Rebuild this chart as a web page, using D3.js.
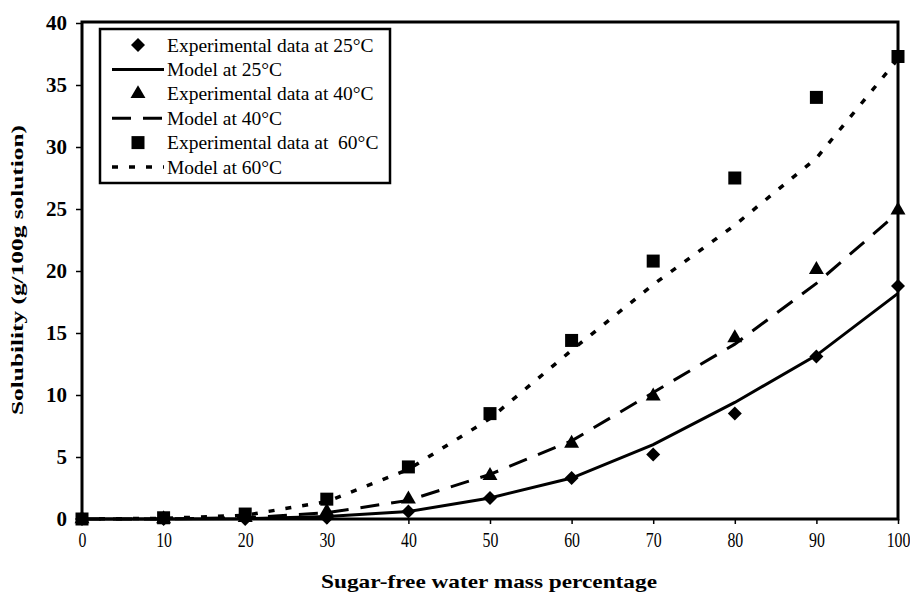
<!DOCTYPE html>
<html>
<head>
<meta charset="utf-8">
<script src="https://cdn.jsdelivr.net/npm/d3@7"></script>
<style>
  html, body { margin: 0; padding: 0; background: #fff; }
  svg { display: block; }
  text { font-family: "Liberation Serif", "Times New Roman", serif; fill: #000; }
</style>
</head>
<body>
<svg id="chart" width="910" height="598"></svg>
<script>
// ---- data ----
const xValues = [0, 10, 20, 30, 40, 50, 60, 70, 80, 90, 100];
const exp25   = [0, 0, 0, 0.1, 0.6, 1.7, 3.3, 5.2, 8.5, 13.1, 18.8];
const model25 = [0, 0, 0.02, 0.2, 0.6, 1.7, 3.3, 6.0, 9.4, 13.2, 18.2];
const exp40   = [0, 0, 0.1, 0.6, 1.6, 3.5, 6.1, 9.9, 14.6, 20.1, 24.9];
const model40 = [0, 0, 0.1, 0.5, 1.5, 3.6, 6.3, 10.2, 14.1, 19.0, 24.7];
const exp60   = [0, 0.1, 0.4, 1.6, 4.2, 8.5, 14.4, 20.8, 27.5, 34.0, 37.3];
const model60 = [0, 0.05, 0.3, 1.4, 4.0, 8.1, 13.6, 18.9, 23.7, 29.1, 37.1];
const xTicks = [0, 10, 20, 30, 40, 50, 60, 70, 80, 90, 100];
const yTicks = [0, 5, 10, 15, 20, 25, 30, 35, 40];
const legendLabels = [
  "Experimental data at 25°C",
  "Model at 25°C",
  "Experimental data at 40°C",
  "Model at 40°C",
  "Experimental data at  60°C",
  "Model at 60°C"
];
const xTitle = "Sugar-free water mass percentage";
const yTitle = "Solubility (g/100g solution)";

// ---- layout ----
const svg = d3.select("#chart");
const L = 82, R = 898, T = 23, B = 519;
const x = d3.scaleLinear().domain([0, 100]).range([L, R]);
const y = d3.scaleLinear().domain([0, 40]).range([B, T]);

const diamond = d3.symbol().type(d3.symbolSquare).size(98);
const square = d3.symbol().type(d3.symbolSquare).size(169);
const triangle = d3.symbol().type(d3.symbolTriangle).size(97);

const series = [
  { exp: exp25, model: model25, sym: diamond, rot: 45, dash: null, width: 3 },
  { exp: exp40, model: model40, sym: triangle, rot: 0, dash: "19,12", width: 3 },
  { exp: exp60, model: model60, sym: square, rot: 0, dash: "6,11", width: 3.5 }
];

// axes
const yAxis = d3.axisLeft(y).tickValues(yTicks).tickSize(6).tickPadding(9);
const gy = svg.append("g").attr("transform", `translate(${L},0)`).call(yAxis);
gy.select(".domain").remove();
gy.selectAll(".tick line").attr("stroke", "#000").attr("stroke-width", 1.5);
gy.selectAll(".tick text")
  .style("font-family", "'Liberation Serif', serif")
  .style("font-size", "21px").style("font-weight", "bold");

const xAxis = d3.axisBottom(x).tickValues(xTicks).tickSize(5).tickPadding(7);
const gx = svg.append("g").attr("transform", `translate(0,${B})`).call(xAxis);
gx.select(".domain").remove();
gx.selectAll(".tick line").attr("stroke", "#000").attr("stroke-width", 1.5);
gx.selectAll(".tick text")
  .style("font-family", "'Liberation Serif', serif")
  .style("font-size", "22px")
  .attr("dy", "0.71em")
  .attr("transform", "scale(0.72,1)");

// model lines
const line = d3.line().x((d, i) => x(xValues[i])).y(d => y(d));
series.forEach(s => {
  svg.append("path")
    .datum(s.model)
    .attr("d", line)
    .attr("fill", "none")
    .attr("stroke", "#000")
    .attr("stroke-width", s.width)
    .attr("stroke-dasharray", s.dash);
});

// frame
svg.append("rect")
  .attr("x", L).attr("y", T - 1)
  .attr("width", R - L).attr("height", B - T + 1)
  .attr("fill", "none").attr("stroke", "#000").attr("stroke-width", 3);

// markers
series.forEach(s => {
  svg.append("g").selectAll("path")
    .data(s.exp)
    .join("path")
    .attr("d", s.sym)
    .attr("transform", (d, i) => `translate(${x(xValues[i])},${y(d)}) rotate(${s.rot})`)
    .attr("fill", "#000");
});

// axis titles
svg.append("text")
  .attr("x", (L + R) / 2 - 1).attr("y", 588)
  .attr("text-anchor", "middle")
  .attr("textLength", 336).attr("lengthAdjust", "spacingAndGlyphs")
  .style("font-size", "19px").style("font-weight", "bold")
  .text(xTitle);

svg.append("text")
  .attr("transform", "translate(23,270) rotate(-90)")
  .attr("text-anchor", "middle")
  .attr("textLength", 290).attr("lengthAdjust", "spacingAndGlyphs")
  .style("font-size", "17px").style("font-weight", "bold")
  .text(yTitle);

// legend
const lg = svg.append("g");
lg.append("rect")
  .attr("x", 100).attr("y", 29).attr("width", 290).attr("height", 154)
  .attr("fill", "#fff").attr("stroke", "#000").attr("stroke-width", 2.5);
const rowY = d3.scaleLinear().domain([0, 5]).range([45, 167]);
legendLabels.forEach((lab, i) => {
  const s = series[Math.floor(i / 2)];
  const cy = rowY(i);
  if (i % 2 === 0) {
    lg.append("path").attr("d", s.sym)
      .attr("transform", `translate(138,${cy}) rotate(${s.rot})`)
      .attr("fill", "#000");
  } else {
    lg.append("line")
      .attr("x1", 112).attr("x2", 164).attr("y1", cy).attr("y2", cy)
      .attr("stroke", "#000").attr("stroke-width", s.width)
      .attr("stroke-dasharray", s.dash);
  }
  lg.append("text")
    .attr("x", 167).attr("y", cy + 6.5)
    .style("font-size", "19.5px")
    .style("white-space", "pre")
    .text(lab);
});
</script>
</body>
</html>
